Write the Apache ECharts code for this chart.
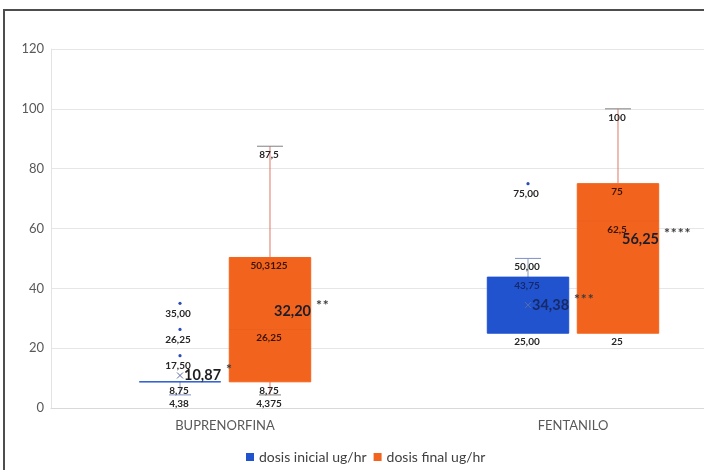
<!DOCTYPE html>
<html><head><meta charset="utf-8">
<script src="https://cdn.jsdelivr.net/npm/echarts@6/dist/echarts.min.js"></script>
<style>html,body{margin:0;padding:0;background:#fff}#c{width:704px;height:470px}</style>
</head><body><div id="c"></div>
<script>
const categories = ['BUPRENORFINA', 'FENTANILO'];
const seriesNames = ['dosis inicial ug/hr', 'dosis final ug/hr'];
// box values: [min, Q1, median, Q3, max]
const inicialBox = [[4.38, 8.75, 8.75, 8.75, 8.75], [25, 25, 25, 43.75, 50]];
const finalBox = [[4.375, 8.75, 26.25, 50.3125, 87.5], [25, 25, 62.5, 75, 100]];
const inicialMean = [10.87, 34.38];
const finalMean = [32.20, 56.25];
const inicialOutliers = [[35, 26.25, 17.5], [75]];
const finalOutliers = [[], []];
// printed labels for [min, Q1, median, Q3, max]
const inicialBoxLabels = [['4,38', '8,75', '', '', ''], ['', '25,00', '', '43,75', '50,00']];
const finalBoxLabels = [['4,375', '8,75', '26,25', '50,3125', '87,5'], ['', '25', '62,5', '75', '100']];
const inicialMeanLabels = ['10,87', '34,38'];
const finalMeanLabels = ['32,20', '56,25'];
const inicialOutlierLabels = [['35,00', '26,25', '17,50'], ['75,00']];
const finalOutlierLabels = [[], []];
const inicialSignif = ['*', '***'];
const finalSignif = ['**', '****'];

const FONT = 'Lato, "Open Sans", sans-serif';

function makeRender(side, sty, outliers, boxLabels, meanLabels, outLabels, signif) {
  return function (params, api) {
    const i = params.dataIndex;
    const ci = api.value(0);
    const band = api.size([1, 0])[0];
    const cx = api.coord([ci, 0])[0] + side * band * 0.1293;
    const hw = band * 0.117;
    const Y = v => api.coord([ci, v])[1];
    const mn = api.value(1), q1 = api.value(2), md = api.value(3), q3 = api.value(4), mx = api.value(5), mean = api.value(6);
    const ch = [];
    const yq1 = Y(q1), yq3 = Y(q3);
    if (mx > q3) {
      ch.push({type: 'line', shape: {x1: cx, y1: yq3, x2: cx, y2: Y(mx)}, style: {stroke: sty.whisker, lineWidth: 1}});
      ch.push({type: 'line', shape: {x1: cx - 13, y1: Y(mx), x2: cx + 13, y2: Y(mx)}, style: {stroke: sty.cap, lineWidth: 1}});
    }
    if (mn < q1) {
      ch.push({type: 'line', shape: {x1: cx, y1: yq1, x2: cx, y2: Y(mn)}, style: {stroke: sty.whisker, lineWidth: 1}});
      ch.push({type: 'line', shape: {x1: cx - 11, y1: Y(mn), x2: cx + 11, y2: Y(mn)}, style: {stroke: sty.cap, lineWidth: 1}});
    }
    ch.push({type: 'rect', shape: {x: cx - hw, y: yq3, width: hw * 2, height: yq1 - yq3},
      style: {fill: sty.color, stroke: sty.color, lineWidth: 1}});
    if (md > q1 && md < q3) {
      ch.push({type: 'line', shape: {x1: cx - hw, y1: Y(md), x2: cx + hw, y2: Y(md)}, style: {stroke: sty.median, lineWidth: 1}});
    }
    const ym = Y(mean);
    ch.push({type: 'line', shape: {x1: cx - 3, y1: ym - 3, x2: cx + 3, y2: ym + 3}, style: {stroke: sty.meanMark, lineWidth: 1}});
    ch.push({type: 'line', shape: {x1: cx - 3, y1: ym + 3, x2: cx + 3, y2: ym - 3}, style: {stroke: sty.meanMark, lineWidth: 1}});
    (outliers[i] || []).forEach(function (v, k) {
      ch.push({type: 'circle', shape: {cx: cx, cy: Y(v), r: 1.6}, style: {fill: sty.dot}});
      ch.push({type: 'text', z2: 100, x: cx - 2, y: Y(v) + 10,
        style: {text: outLabels[i][k], fill: '#262626', fontSize: 10, fontWeight: 'bold', fontFamily: FONT, align: 'center', verticalAlign: 'middle'}});
    });
    const vals = [mn, q1, md, q3, mx];
    boxLabels[i].forEach(function (t, k) {
      if (!t) return;
      const ly = Y(vals[k]) + 8.5;
      const inside = ly > yq3 + 3 && ly < yq1 - 3;
      ch.push({type: 'text', z2: 100, x: cx - 1, y: ly,
        style: {text: t, fill: inside ? sty.insideText : '#262626', fontSize: 10, fontWeight: 'bold', fontFamily: FONT, align: 'center', verticalAlign: 'middle'}});
    });
    const insideMean = ym > yq3 && ym < yq1;
    ch.push({type: 'text', z2: 100, x: cx + 4, y: ym,
      style: {text: '{m|' + meanLabels[i] + '}{s|' + signif[i].split('').join('\u200A') + '}',
        align: 'left', verticalAlign: 'middle',
        rich: {
          m: {fontSize: 14.5, fontWeight: 'bold', fontFamily: FONT, fill: insideMean ? sty.insideMean : '#1e1e1e'},
          s: {fontSize: 14, fontWeight: 'bold', fontFamily: FONT, fill: '#3a3a3a', padding: [0, 0, 12, 5]}
        }}});
    return {type: 'group', children: ch};
  };
}

const inicialStyle = {color: '#2153cf', whisker: '#8c9bb5', cap: '#7f8fc4', median: '#2153cf', meanMark: '#5a6ea8', dot: '#2b4db5', insideText: '#15286a', insideMean: '#172a68'};
const finalStyle = {color: '#f2641d', whisker: '#e0776a', cap: '#808080', median: '#ea6020', meanMark: '#f2641d', dot: '#d9571a', insideText: '#3b1406', insideMean: '#1c1c2a'};

const chart = echarts.init(document.getElementById('c'), null, {renderer: 'canvas'});
chart.setOption({
  animation: false,
  backgroundColor: '#ffffff',
  graphic: [{type: 'rect', z: 100, shape: {x: 4, y: 10, width: 760, height: 500}, style: {fill: 'none', stroke: '#4d4d4d', lineWidth: 2}}],
  legend: {
    data: seriesNames, left: 241, top: 445, icon: 'rect', itemWidth: 8, itemHeight: 8, itemGap: 7,
    textStyle: {fontSize: 14, color: '#404040', fontFamily: FONT}
  },
  grid: {left: 51, top: 49, width: 696, height: 359, containLabel: false, outerBoundsMode: 'none'},
  xAxis: {
    type: 'category', data: categories,
    axisTick: {show: false},
    axisLine: {lineStyle: {color: '#d9d9d9'}},
    axisLabel: {fontSize: 13, color: '#595959', fontFamily: FONT, margin: 11}
  },
  yAxis: {
    type: 'value', min: 0, max: 120, interval: 20,
    axisLine: {show: true, lineStyle: {color: '#e3e3e3'}},
    axisTick: {show: false},
    axisLabel: {fontSize: 13, color: '#595959', fontFamily: FONT, margin: 7},
    splitLine: {lineStyle: {color: '#e6e6e6'}}
  },
  series: [
    {
      name: seriesNames[0], type: 'custom', clip: false, itemStyle: {color: inicialStyle.color},
      encode: {x: 0, y: [1, 2, 3, 4, 5]},
      renderItem: makeRender(-1, inicialStyle, inicialOutliers, inicialBoxLabels, inicialMeanLabels, inicialOutlierLabels, inicialSignif),
      data: inicialBox.map((b, i) => [i].concat(b, [inicialMean[i]]))
    },
    {
      name: seriesNames[1], type: 'custom', clip: false, itemStyle: {color: finalStyle.color},
      encode: {x: 0, y: [1, 2, 3, 4, 5]},
      renderItem: makeRender(1, finalStyle, finalOutliers, finalBoxLabels, finalMeanLabels, finalOutlierLabels, finalSignif),
      data: finalBox.map((b, i) => [i].concat(b, [finalMean[i]]))
    }
  ]
});
</script>
</body></html>
